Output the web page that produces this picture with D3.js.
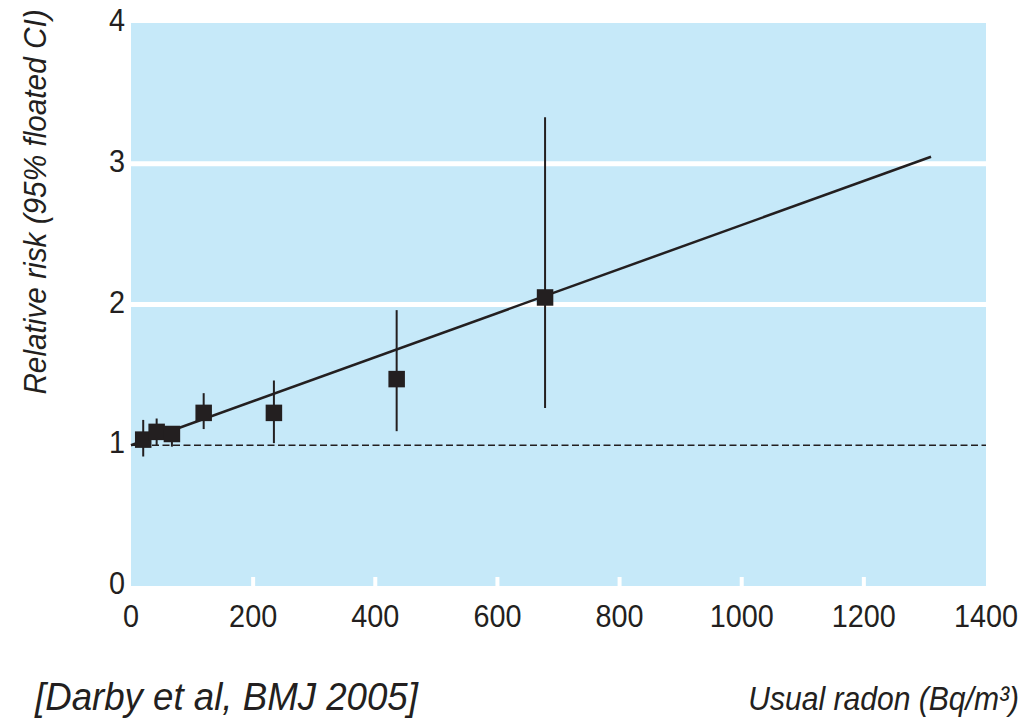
<!DOCTYPE html>
<html>
<head>
<meta charset="utf-8">
<script src="https://cdn.jsdelivr.net/npm/d3@7"></script>
<style>
  body { margin: 0; background: #fff; }
  text { font-family: "Liberation Sans", Arial, Helvetica, sans-serif; fill: #231f20; }
</style>
</head>
<body>
<svg id="chart" width="1034" height="720"></svg>
<script>
// ------ data
var radon   = [20, 42, 67, 119, 234, 435, 678];          // usual radon, Bq/m3
var rr      = [1.04, 1.095, 1.08, 1.23, 1.23, 1.47, 2.05];
var ciLow   = [0.92, 1.00, 0.99, 1.115, 1.015, 1.10, 1.265];
var ciHigh  = [1.18, 1.19, 1.13, 1.37, 1.46, 1.96, 3.33];
var fitX    = [0, 1310];
var fitY    = [1, 3.05];
var xTicks  = [0, 200, 400, 600, 800, 1000, 1200, 1400];
var yTicks  = [0, 1, 2, 3, 4];
var gridY   = [2, 3];
var refY    = 1;

var ink = "#231f20";

// ------ scales
var x = d3.scaleLinear().domain([0, 1400]).range([131, 986]);
var y = d3.scaleLinear().domain([0, 4]).range([586, 23]);

var svg = d3.select("#chart");

// condensed-looking text: font drawn a bit narrower than its height
function label(g, px, py, anchor, size, sx, italic, str, rot) {
  return g.append("text")
    .attr("transform", "translate(" + px + "," + py + ")" + (rot ? " rotate(" + rot + ")" : "") + " scale(" + sx + ",1)")
    .attr("text-anchor", anchor)
    .style("font-size", size + "px")
    .style("font-style", italic ? "italic" : "normal")
    .text(str);
}

// plot background
svg.append("rect")
  .attr("x", x(0)).attr("y", y(4))
  .attr("width", x(1400) - x(0)).attr("height", y(0) - y(4))
  .style("fill", "#c6e9f9");

// white gridlines
svg.selectAll(".grid").data(gridY).enter().append("line")
  .attr("class", "grid")
  .attr("x1", x(0)).attr("x2", x(1400))
  .attr("y1", d => y(d)).attr("y2", d => y(d))
  .style("stroke", "#fff").style("stroke-width", 5);

// white tick notches along the bottom
svg.selectAll(".notch").data(xTicks.slice(1, -1)).enter().append("line")
  .attr("class", "notch")
  .attr("x1", d => x(d)).attr("x2", d => x(d))
  .attr("y1", y(0)).attr("y2", y(0) - 9)
  .style("stroke", "#fff").style("stroke-width", 4);

// dashed reference line at RR = 1
svg.append("line")
  .attr("x1", x(0)).attr("x2", x(1400))
  .attr("y1", y(refY)).attr("y2", y(refY))
  .style("stroke", ink).style("stroke-width", 1.7)
  .style("stroke-dasharray", "7,3.5");

// fitted line
svg.append("path")
  .datum(d3.zip(fitX, fitY))
  .attr("d", d3.line().x(d => x(d[0])).y(d => y(d[1])))
  .style("fill", "none").style("stroke", ink).style("stroke-width", 2.5);

// error bars
var pts = radon.map((r, i) => ({x: r, y: rr[i], lo: ciLow[i], hi: ciHigh[i]}));
svg.selectAll(".ci").data(pts).enter().append("line")
  .attr("class", "ci")
  .attr("x1", d => x(d.x)).attr("x2", d => x(d.x))
  .attr("y1", d => y(d.lo)).attr("y2", d => y(d.hi))
  .style("stroke", ink).style("stroke-width", 2);

// square markers
var s = 16.5;
svg.selectAll(".pt").data(pts).enter().append("rect")
  .attr("class", "pt")
  .attr("x", d => x(d.x) - s / 2).attr("y", d => y(d.y) - s / 2)
  .attr("width", s).attr("height", s)
  .style("fill", ink);

// x tick labels
xTicks.forEach(function(t) {
  label(svg, x(t), 627, "middle", 32, 0.9, false, t);
});

// y tick labels
yTicks.forEach(function(t) {
  label(svg, 125, y(t) + 8, "end", 32, 0.9, false, t);
});

// y axis title
label(svg, 46, 202, "middle", 32, 0.93, true, "Relative risk (95% floated CI)", -90);

// x axis title
label(svg, 1019, 710, "end", 34, 0.885, true, "Usual radon (Bq/m³)");

// source note
label(svg, 35, 710, "start", 39, 0.94, true, "[Darby et al, BMJ 2005]");
</script>
</body>
</html>
